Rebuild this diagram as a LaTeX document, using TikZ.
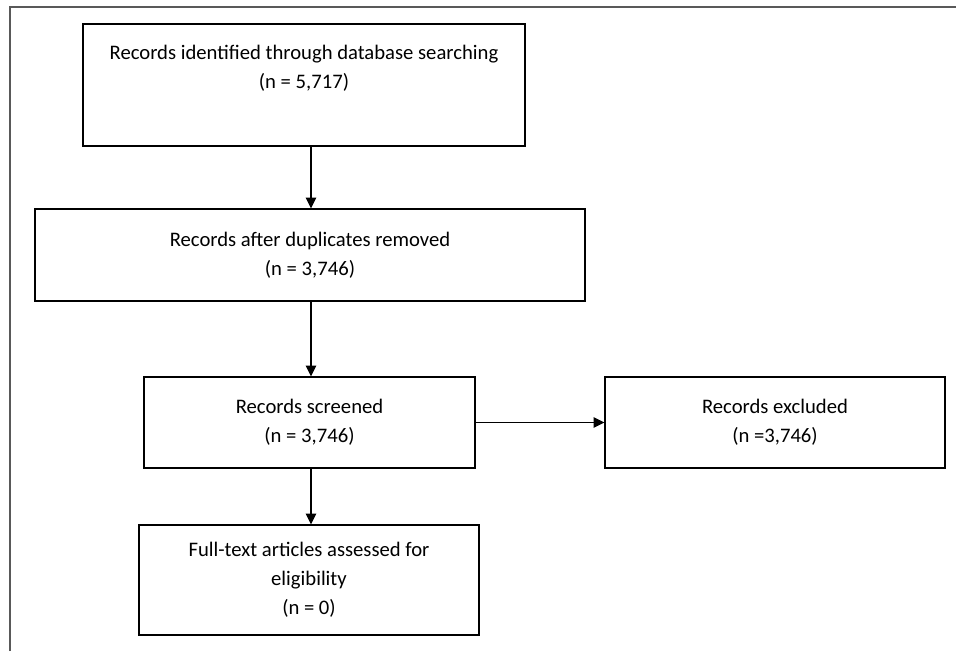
\documentclass[tikz,border=0pt]{standalone}
\usepackage{fontspec}
\setmainfont{Carlito}
\usetikzlibrary{arrows.meta}
\begin{document}
\begin{tikzpicture}[x=0.75pt,y=-0.75pt,
  box/.style={draw=black,line width=0.9pt,rectangle,inner sep=0pt,align=center,
    font=\fontsize{15.5pt}{21.75pt}\selectfont},
  flow/.style={line width=1.4pt,-{Triangle[length=8pt,width=7.5pt]}},
  frame/.style={draw=black!65,line width=1.2pt}]
\useasboundingbox (0,0) rectangle (956,651);
\draw[frame] (10,651) -- (10,7) -- (956,7);
\node[box,minimum width=442*0.75pt,minimum height=122*0.75pt] (b1) at (304,85)
  {Records identified through database searching\\(n = 5,717)\\[5pt]\mbox{}};
\node[box,minimum width=550*0.75pt,minimum height=92*0.75pt] (b2) at (310,255)
  {Records after duplicates removed\\(n = 3,746)};
\node[box,minimum width=331*0.75pt,minimum height=91*0.75pt] (b3) at (309.5,422.5)
  {Records screened\\(n = 3,746)};
\node[box,minimum width=340*0.75pt,minimum height=91*0.75pt] (b4) at (775,422.5)
  {Records excluded\\(n =3,746)};
\node[box,minimum width=340*0.75pt,minimum height=110*0.75pt] (b5) at (309,580)
  {Full-text articles assessed for\\eligibility\\(n = 0)};
\coordinate (ax) at (311,0);
\draw[flow] (b1.south -| ax) -- (b2.north -| ax);
\draw[flow] (b2.south -| ax) -- (b3.north -| ax);
\draw[flow] (b3.south -| ax) -- (b5.north -| ax);
\draw[flow] (b3.east) -- (b4.west);
\end{tikzpicture}
\end{document}
